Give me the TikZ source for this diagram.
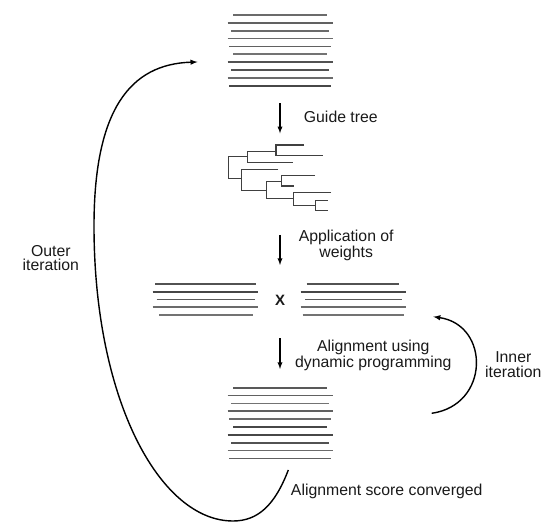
\documentclass[tikz,border=0pt]{standalone}
\usepackage{fontspec}
\setmainfont{Liberation Sans}
\usepackage{tikz}
\usetikzlibrary{arrows}

\tikzset{
  seqline/.style={line width=1.8pt},
  branch/.style={line width=1.1pt, black!75},
  stage/.style={->, >=latex, line width=1.3pt},
  iter/.style={->, >=latex, line width=1.4pt},
  caption/.style={align=center, inner sep=0pt, text=black!90,
    font=\fontsize{15.8}{14.5}\selectfont}
}

\begin{document}
\begin{tikzpicture}[x=1pt, y=-1pt]
  \useasboundingbox (0,0) rectangle (554,526);

  % full alignments, before and after
  \foreach \i/\l/\r/\ct/\cb in {0/233.3/326.7/58/65, 1/227.7/332.7/62/62,
      2/231/329.3/58/55, 3/227.7/332.7/58/62, 4/229.3/330.7/62/58,
      5/233.3/326.7/55/72, 6/227.7/332.7/68/72, 7/231/329.3/68/68,
      8/227.7/332.7/58/58, 9/229.3/330.7/72/62}
  {
    \draw[seqline, black!\ct] (\l, 15+\i*7.86) -- (\r, 15+\i*7.86);
    \draw[seqline, black!\cb] (\l, 387.7+\i*7.86) -- (\r, 387.7+\i*7.86);
  }

  % guide tree
  \foreach \x/\ya/\yb/\xa/\xb in {228.3/156.7/178.3/247.7/241.7,
      247.7/151.7/162.3/276/293.3, 276/145/155.7/304/323.3,
      241.7/169.3/190.3/278.3/266.7, 266.7/181.3/198.8/281.7/293.3,
      281.7/175.5/186/315/294.3, 293.3/192.2/205.7/331/315.8,
      315.8/200.3/210.3/327.7/328.3}
    \draw[branch] (\xa,\ya) -- (\x,\ya) -- (\x,\yb) -- (\xb,\yb);

  % the two groups
  \foreach \i/\la/\lb/\ra/\rb/\c in {0/155/256/306.7/399.3/68,
      1/152.7/258.3/300.7/405.7/72, 2/156.7/255/305/401.7/65,
      3/152.7/258.3/300.7/405.7/58, 4/159.3/252.7/302.7/404/55}
  {
    \draw[seqline, black!\c] (\la, 284+\i*7.75) -- (\lb, 284+\i*7.75);
    \draw[seqline, black!\c] (\ra, 284+\i*7.75) -- (\rb, 284+\i*7.75);
  }
  \node[font=\fontsize{15}{15}\selectfont\bfseries, text=black!90] (cross) at (280,300.7) {X};

  \coordinate (treein) at (280,103.3);
  \coordinate (treeout) at (280,133.3);
  \coordinate (weighin) at (280,235);
  \coordinate (weighout) at (280,265);
  \coordinate (dpin) at (280,338.3);
  \coordinate (dpout) at (280,369);
  \coordinate (innerfrom) at (431.7,413.3);
  \coordinate (innerto) at (433.3,316.7);
  \coordinate (outerfrom) at (288.3,470);
  \coordinate (outerto) at (197.5,62);

  \node[caption] (guide) at (340.8,116.7) {Guide tree};
  \node[caption] (weights) at (346.2,245.3) {Application of\\weights};
  \node[caption] (dynprog) at (373.3,355.3) {Alignment using\\dynamic programming};
  \node[caption] (inner) at (513.3,364.5) {Inner\\iteration};
  \node[caption] (outer) at (50.8,258.2) {Outer\\iteration};
  \node[caption] (converged) at (386.7,491.7) {Alignment score converged};

  \draw[stage] (treein) -- (treeout);
  \draw[stage] (weighin) -- (weighout);
  \draw[stage] (dpin) -- (dpout);

  \draw[iter] (innerfrom) .. controls (490,405) and (490,325) .. (innerto);
  \draw[iter] (outerfrom) .. controls (275,505) and (258,521) .. (233,521)
    .. controls (160,521) and (94,400) .. (94,226)
    .. controls (94,110) and (130,64) .. (outerto);
\end{tikzpicture}
\end{document}
